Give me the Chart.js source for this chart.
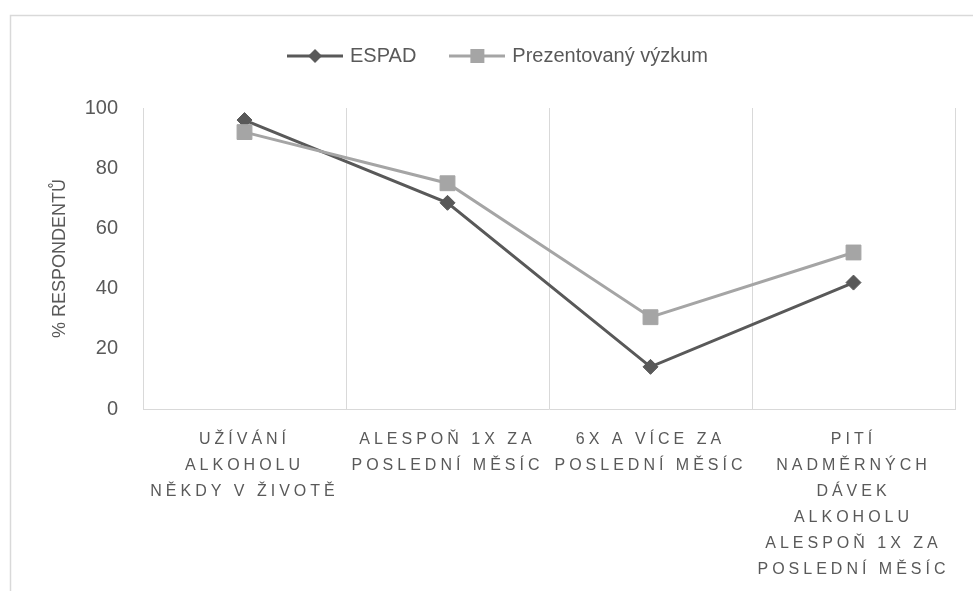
<!DOCTYPE html>
<html><head><meta charset="utf-8">
<script src="https://cdn.jsdelivr.net/npm/chart.js@4"></script>
<style>html,body{margin:0;background:#fff}#wrap{width:973px;height:591px;position:relative}</style>
</head><body><div id="wrap"><canvas id="c"></canvas></div>
<script>
const categories = [
  ["UŽÍVÁNÍ", "ALKOHOLU", "NĚKDY V ŽIVOTĚ"],
  ["ALESPOŇ 1X ZA", "POSLEDNÍ MĚSÍC"],
  ["6X A VÍCE ZA", "POSLEDNÍ MĚSÍC"],
  ["PITÍ", "NADMĚRNÝCH", "DÁVEK", "ALKOHOLU", "ALESPOŇ 1X ZA", "POSLEDNÍ MĚSÍC"]
];
const seriesNames = ["ESPAD", "Prezentovaný výzkum"];
const espadValues = [96, 68.5, 14, 42];
const prezentovanyValues = [92, 75, 30.5, 52];
const yTickValues = [0, 20, 40, 60, 80, 100];
const yTitle = "% RESPONDENTŮ";

const FONT = "'Liberation Sans', Arial, sans-serif";
const DARK = '#595959', LIGHT = '#A5A5A5', GRID = '#D9D9D9', TEXT = '#595959';

function legendIcon(color, style) {
  const c = document.createElement('canvas');
  c.width = 56; c.height = 18;
  const g = c.getContext('2d');
  g.strokeStyle = color; g.lineWidth = 3;
  g.beginPath(); g.moveTo(0, 9); g.lineTo(56, 9); g.stroke();
  g.fillStyle = color;
  if (style === 'rectRot') {
    g.beginPath(); g.moveTo(28, 2); g.lineTo(35, 9); g.lineTo(28, 16); g.lineTo(21, 9); g.closePath(); g.fill();
  } else {
    g.fillRect(21, 2, 14, 14);
  }
  return c;
}
const icons = [legendIcon(DARK, 'rectRot'), legendIcon(LIGHT, 'rect')];

const borderPlugin = {
  id: 'outerBorder',
  beforeDraw(chart) {
    const ctx = chart.ctx;
    ctx.save();
    ctx.fillStyle = '#fff';
    ctx.fillRect(0, 0, chart.width, chart.height);
    ctx.strokeStyle = GRID; ctx.lineWidth = 1.5;
    ctx.strokeRect(10.5, 15.5, 2000, 2000);
    ctx.restore();
  }
};

const legendSpacePlugin = {
  id: 'legendSpace',
  afterInit(chart) {
    const lg = chart.legend;
    if (lg && !lg._wrappedFit) {
      const f = lg.fit;
      lg.fit = function () { f.call(this); this.height += 32; };
      lg._wrappedFit = true;
    }
  }
};

const letterSpacingPlugin = {
  id: 'letterSpacingX',
  beforeDraw(chart) {
    const sx = chart.scales.x;
    if (!sx._lsWrapped) {
      const orig = sx.drawLabels;
      sx.drawLabels = function (area) {
        const ctx = this.ctx;
        ctx.save();
        ctx.letterSpacing = '4px';
        orig.call(this, area);
        ctx.restore();
      };
      sx._lsWrapped = true;
    }
  }
};

const chart = new Chart(document.getElementById('c'), {
  type: 'line',
  data: {
    labels: categories,
    datasets: [
      {
        label: seriesNames[0], data: espadValues, order: 2,
        borderColor: DARK, backgroundColor: DARK, borderWidth: 3,
        pointStyle: 'rectRot', pointRadius: 7.5, pointBorderWidth: 1,
        pointBackgroundColor: DARK, pointBorderColor: DARK, tension: 0
      },
      {
        label: seriesNames[1], data: prezentovanyValues, order: 1,
        borderColor: LIGHT, backgroundColor: LIGHT, borderWidth: 3,
        pointStyle: 'rect', pointRadius: 10.5, pointBorderWidth: 1,
        pointBackgroundColor: LIGHT, pointBorderColor: LIGHT, tension: 0
      }
    ]
  },
  options: {
    responsive: true, maintainAspectRatio: false, animation: false,
    layout: { padding: { left: 43, right: 18, top: 10, bottom: 0 } },
    plugins: {
      tooltip: { enabled: false },
      legend: {
        position: 'top',
        labels: {
          usePointStyle: true, pointStyleWidth: 50, boxHeight: 18, padding: 36,
          color: TEXT, font: { family: FONT, size: 20 },
          sort: (a, b) => a.datasetIndex - b.datasetIndex,
          generateLabels(chart) {
            const items = Chart.defaults.plugins.legend.labels.generateLabels(chart);
            items.forEach(it => { it.pointStyle = icons[it.datasetIndex]; });
            return items;
          }
        }
      }
    },
    scales: {
      x: {
        offset: true,
        grid: { offset: true, color: GRID, lineWidth: 1, drawTicks: false },
        border: { display: true, color: GRID, width: 1 },
        ticks: {
          color: TEXT, padding: 18, maxRotation: 0, autoSkip: false,
          font: { family: FONT, size: 16, lineHeight: 1.625 }
        },
        afterFit(scale) { scale.height = 182; }
      },
      y: {
        min: yTickValues[0], max: yTickValues[yTickValues.length - 1],
        grid: { display: false, drawTicks: false },
        border: { display: false },
        ticks: {
          stepSize: yTickValues[1] - yTickValues[0], padding: 25,
          color: TEXT, font: { family: FONT, size: 20 }
        },
        title: {
          display: true, text: yTitle, color: TEXT,
          font: { family: FONT, size: 18 }, padding: { top: 6, bottom: 0 }
        },
        afterFit(scale) { scale.width = 100; }
      }
    }
  },
  plugins: [borderPlugin, legendSpacePlugin, letterSpacingPlugin]
});
</script></body></html>
